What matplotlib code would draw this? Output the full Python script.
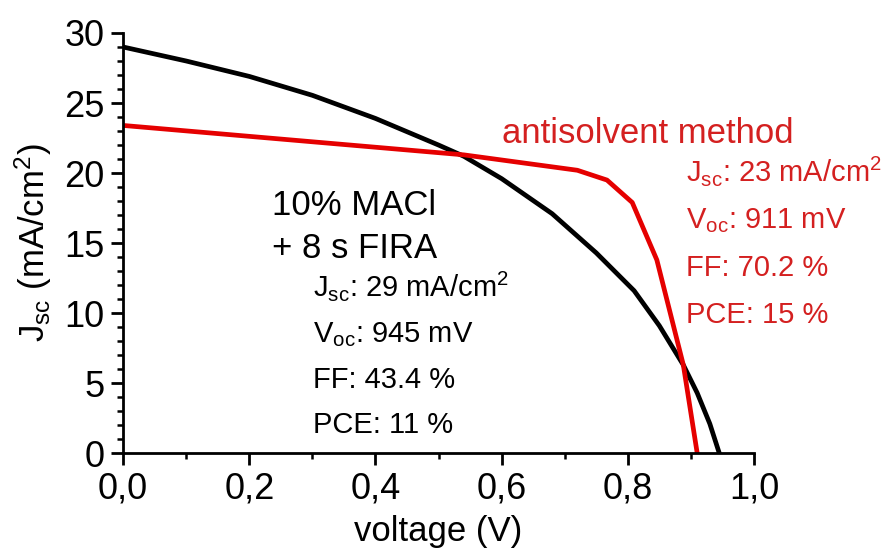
import matplotlib
matplotlib.use('Agg')
import matplotlib.pyplot as plt
from matplotlib.ticker import MultipleLocator, FuncFormatter

plt.rcParams['font.family'] = ['Liberation Sans', 'DejaVu Sans']
plt.rcParams['mathtext.default'] = 'regular'

# === data ===
voltage_fira = [0.0, 0.1, 0.2, 0.3, 0.4, 0.5, 0.54, 0.6, 0.68, 0.75, 0.81, 0.85, 0.888, 0.91, 0.93, 0.945]
jsc_fira = [29.0, 28.0, 26.9, 25.55, 23.9, 22.0, 21.2, 19.6, 17.1, 14.3, 11.6, 9.1, 6.3, 4.3, 2.1, 0.0]

voltage_anti = [0.0, 0.54, 0.72, 0.767, 0.807, 0.846, 0.888, 0.91]
jsc_anti = [23.4, 21.3, 20.2, 19.5, 17.9, 13.8, 6.3, 0.0]

fira_title = ["10% MACl", "+ 8 s FIRA"]
fira_stats = ["J$_{sc}$: 29 mA/cm$^2$", "V$_{oc}$: 945 mV", "FF: 43.4 %", "PCE: 11 %"]
anti_title = "antisolvent method"
anti_stats = ["J$_{sc}$: 23 mA/cm$^2$", "V$_{oc}$: 911 mV", "FF: 70.2 %", "PCE: 15 %"]

RED = '#e50000'
RED_TXT = '#d42020'

fig = plt.figure(figsize=(8.86, 5.5), dpi=100)
ax = fig.add_axes([0.139, 0.176, 0.712, 0.764])

ax.plot(voltage_fira, jsc_fira, color='black', lw=3.4, solid_joinstyle='round')
ax.plot(voltage_anti, jsc_anti, color=RED, lw=3.4, solid_joinstyle='round')

ax.set_xlim(0, 1.0)
ax.set_ylim(0, 30)
ax.spines['top'].set_visible(False)
ax.spines['right'].set_visible(False)
for s in ['left', 'bottom']:
    ax.spines[s].set_linewidth(2.0)

ax.xaxis.set_major_locator(MultipleLocator(0.2))
ax.xaxis.set_minor_locator(MultipleLocator(0.1))
ax.yaxis.set_major_locator(MultipleLocator(5))
ax.yaxis.set_minor_locator(MultipleLocator(1))
ax.xaxis.set_major_formatter(FuncFormatter(lambda v, p: f"{v:.1f}".replace('.', ',')))
ax.tick_params(which='major', direction='out', length=8.4, width=2.0, labelsize=26, pad=5)
ax.tick_params(which='minor', direction='out', length=4.2, width=1.8)

ax.set_xlabel("voltage (V)", fontsize=25, labelpad=6)
ax.set_ylabel("J$_{sc}$ (mA/cm$^2$)", fontsize=25, labelpad=7)

# annotations
ax.text(0.236, 17.0, fira_title[0], fontsize=25, va='baseline', ha='left')
ax.text(0.236, 13.93, fira_title[1], fontsize=25, va='baseline', ha='left')
for i, s in enumerate(fira_stats):
    ax.text(0.301, 11.2 - i * 3.26, s, fontsize=21, va='baseline', ha='left')

ax.text(0.601, 22.14, anti_title, fontsize=25, va='baseline', ha='left', color=RED_TXT)
for i, s in enumerate(anti_stats):
    ax.text(0.892, 19.4 - i * 3.36, s, fontsize=21, va='baseline', ha='left', color=RED_TXT)

fig.savefig("out.png", dpi=100)
